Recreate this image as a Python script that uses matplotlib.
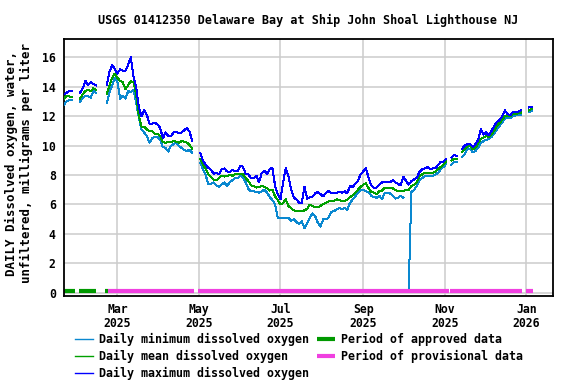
import numpy as np
import pandas as pd
import matplotlib
matplotlib.use('Agg')
import matplotlib.pyplot as plt

nan = np.nan

# daily dissolved oxygen, read every 2nd day starting 2025-01-20 (mg/L)
do_max = [
    13.5, 13.6, 13.7, 13.7, nan, nan, 13.6, 13.9, 14.4, 14.15,
    14.3, 14.2, 14.1, nan, nan, nan, 14.1, 15.0, 15.5, 15.2,
    14.9, 15.2, 15.1, 15.1, 15.5, 16.0, 14.7, 14.0, 12.6, 12.0,
    12.4, 12.1, 11.5, 11.5, 11.55, 11.45, 11.2, 10.5, 10.9, 10.65,
    10.65, 10.9, 10.95, 10.85, 10.9, 11.05, 11.2, 10.95, 10.3, nan,
    nan, 9.5, 9.0, 8.7, 8.5, 8.35, 8.1, 8.15, 8.05, 8.4,
    8.45, 8.25, 8.2, 8.35, 8.25, 8.25, 8.65, 8.55, 8.1, 8.05,
    7.8, 7.8, 7.95, 7.5, 8.15, 8.3, 8.1, 8.4, 8.5, 7.25,
    6.7, 6.35, 7.5, 8.5, 7.9, 7.05, 6.45, 6.35, 6.1, 6.1,
    7.2, 6.4, 6.5, 6.55, 6.75, 6.85, 6.7, 6.55, 6.8, 6.9,
    6.8, 6.8, 6.8, 6.85, 6.8, 6.9, 6.75, 7.25, 7.2, 7.4,
    7.6, 8.05, 8.25, 8.45, 7.8, 7.3, 7.1, 7.15, 7.35, 7.5,
    7.55, 7.55, 7.5, 7.65, 7.5, 7.4, 7.3, 7.9, 7.6, 7.35,
    7.6, 7.7, 7.8, 8.2, 8.4, 8.45, 8.55, 8.4, 8.45, 8.45,
    8.7, 8.9, 8.9, 9.1, nan, 9.2, 9.35, 9.3, nan, 9.8,
    10.0, 10.1, 10.1, 9.9, 10.1, 10.4, 11.15, 10.75, 10.9, 10.7,
    11.0, 11.35, 11.6, 11.75, 12.0, 12.4, 12.15, 12.05, 12.3, 12.3,
    12.3, 12.4, nan, nan, 12.6, 12.65,
]

do_mean = [
    13.2, 13.4, 13.35, 13.3, nan, nan, 13.2, 13.5, 13.7, 13.8,
    13.7, 13.9, 13.8, nan, nan, nan, 13.5, 14.1, 14.6, 14.9,
    14.6, 14.4, 14.3, 13.85, 14.1, 14.4, 14.3, 13.5, 12.0, 11.3,
    11.3, 11.1, 11.0, 11.0, 10.8, 10.8, 10.65, 10.25, 10.2, 10.27,
    10.25, 10.3, 10.27, 10.2, 10.3, 10.27, 10.2, 10.05, 9.8, nan,
    nan, 9.1, 8.7, 8.45, 8.05, 7.85, 7.7, 7.65, 7.8, 7.95,
    7.9, 7.95, 8.0, 7.95, 8.05, 8.05, 8.1, 8.05, 7.8, 7.6,
    7.3, 7.25, 7.15, 7.2, 7.25, 7.2, 7.1, 6.95, 7.0, 6.55,
    6.3, 6.0, 6.1, 6.35, 5.9, 5.75, 5.6, 5.55, 5.55, 5.55,
    5.6, 5.7, 6.0, 5.9, 5.8, 5.8, 5.9, 6.05, 6.1, 6.2,
    6.25, 6.25, 6.35, 6.3, 6.25, 6.25, 6.3, 6.5, 6.6, 6.8,
    7.0, 7.2, 7.35, 7.45, 7.1, 6.85, 6.8, 6.7, 6.9, 6.95,
    7.15, 7.15, 7.15, 7.1, 7.0, 6.9, 6.9, 6.9, 7.0, 7.0,
    7.25, 7.35, 7.5, 7.9, 8.05, 8.15, 8.15, 8.15, 8.15, 8.25,
    8.4, 8.55, 8.7, 8.95, nan, 9.0, 9.1, 9.1, nan, 9.6,
    9.75, 10.0, 10.0, 9.75, 9.85, 10.2, 10.45, 10.55, 10.65, 10.6,
    10.8, 11.0, 11.35, 11.55, 11.75, 12.0, 12.0, 12.0, 12.15, 12.15,
    12.2, 12.25, nan, nan, 12.4, 12.5,
]

do_min = [
    12.8, 13.0, 13.1, 13.1, nan, nan, 13.0, 13.25, 13.37, 13.37,
    13.25, 13.7, 13.6, nan, nan, nan, 12.9, 13.6, 14.1, 14.6,
    14.3, 13.2, 13.4, 13.2, 13.7, 13.65, 13.8, 12.9, 11.9, 11.1,
    10.9, 10.65, 10.2, 10.5, 10.6, 10.6, 10.4, 9.9, 9.85, 9.6,
    10.0, 10.1, 10.2, 9.97, 9.85, 9.7, 9.65, 9.7, 9.5, nan,
    nan, 8.85, 8.4, 8.0, 7.4, 7.4, 7.5, 7.3, 7.2, 7.35,
    7.5, 7.25, 7.5, 7.65, 7.8, 7.8, 7.95, 7.8, 7.5, 7.05,
    6.9, 6.9, 6.85, 6.8, 6.9, 7.0, 6.8, 6.5, 6.3, 6.0,
    5.1, 5.05, 5.05, 5.05, 5.1, 4.9, 5.0, 4.8, 4.7, 4.85,
    4.4, 4.7, 5.1, 5.4, 5.2, 4.75, 4.5, 5.0, 5.0, 5.1,
    5.5, 5.55, 5.65, 5.75, 5.7, 5.75, 5.65, 6.1, 6.35, 6.55,
    6.8, 6.95, 7.0, 6.9, 6.8, 6.6, 6.5, 6.45, 6.6, 6.35,
    6.8, 6.8, 6.75, 6.6, 6.4, 6.45, 6.6, 6.45, nan, 0.35,
    6.85, 7.0, 7.25, 7.65, 7.8, 7.9, 7.95, 7.95, 7.95, 8.05,
    8.15, 8.4, 8.55, 8.75, nan, 8.7, 8.9, 8.9, nan, 9.25,
    9.4, 9.85, 9.75, 9.55, 9.65, 9.85, 10.2, 10.3, 10.4, 10.45,
    10.6, 10.8, 11.1, 11.35, 11.55, 11.85, 11.9, 11.85, 12.0, 12.05,
    12.1, 12.1, nan, nan, 12.3, 12.35,
]

dates = pd.date_range('2025-01-20', periods=len(do_max), freq='2D')

approved_start = ['2025-01-19', '2025-01-31', '2025-02-20']
approved_end = ['2025-01-28', '2025-02-13', '2025-02-22']
provisional_start = ['2025-02-22', '2025-04-30', '2025-11-05', '2026-01-01']
provisional_end = ['2025-04-27', '2025-11-04', '2025-12-29', '2026-01-06']

tick_dates = ['2025-03-01', '2025-05-01', '2025-07-01', '2025-09-01', '2025-11-01', '2026-01-01']
tick_labels = ['Mar\n2025', 'May\n2025', 'Jul\n2025', 'Sep\n2025', 'Nov\n2025', 'Jan\n2026']

title = 'USGS 01412350 Delaware Bay at Ship John Shoal Lighthouse NJ'
ylabel = 'DAILY Dissolved oxygen, water,\nunfiltered, milligrams per liter'

plt.rcParams['font.family'] = 'DejaVu Sans Mono'
plt.rcParams['font.weight'] = 'bold'

fig = plt.figure(figsize=(5.76, 3.84), dpi=100)
ax = fig.add_axes([64 / 576, 1 - 296 / 384, (553 - 64) / 576, (296 - 39) / 384])

ax.plot(dates, do_min, color='#0a88d0', lw=0.72, antialiased=False,
        label='Daily minimum dissolved oxygen', zorder=3)
ax.plot(dates, do_mean, color='#00a000', lw=0.72, antialiased=False,
        label='Daily mean dissolved oxygen', zorder=3)
ax.plot(dates, do_max, color='#0000ff', lw=0.72, antialiased=False,
        label='Daily maximum dissolved oxygen', zorder=3)

bar_level = 0.09
for i, (s, e) in enumerate(zip(approved_start, approved_end)):
    ax.plot(pd.to_datetime([s, e]), [bar_level, bar_level], color='#009900', lw=3,
            solid_capstyle='butt', zorder=2,
            label='Period of approved data' if i == 0 else None)
for i, (s, e) in enumerate(zip(provisional_start, provisional_end)):
    ax.plot(pd.to_datetime([s, e]), [bar_level, bar_level], color='#f040e0', lw=3,
            solid_capstyle='butt', zorder=2,
            label='Period of provisional data' if i == 0 else None)

ax.set_xlim(pd.Timestamp('2025-01-20'), pd.Timestamp('2026-01-21'))
ax.set_ylim(-0.22, 17.25)
ax.set_yticks(range(0, 17, 2))
ax.set_xticks(pd.to_datetime(tick_dates))
ax.set_xticklabels(tick_labels, linespacing=1.1)
ax.tick_params(length=0, labelsize=8.3, pad=5)
ax.tick_params(axis='y', pad=6)
ax.grid(True, color='#cccccc', lw=1.1)
ax.set_axisbelow(True)
for sp in ax.spines.values():
    sp.set_linewidth(1.3)

fig.text((64 + 553) / 2 / 576, 1 - 20 / 384, title, ha='center', va='center', fontsize=8.5)
fig.text(19 / 576, 1 - 163 / 384, ylabel, rotation=90, ha='center', va='center',
         fontsize=9, multialignment='center', linespacing=1.25)

leg = fig.legend(loc='upper left', bbox_to_anchor=(75 / 576, 1 - 333 / 384), ncol=2,
                 frameon=False, fontsize=8.4, borderpad=0, borderaxespad=0,
                 handlelength=1.55, handletextpad=0.5, columnspacing=0.72,
                 labelspacing=0.35)
# the thin data lines look washed out as legend samples; draw them a bit firmer
for h in leg.get_lines()[:3]:
    h.set_antialiased(True)
    h.set_linewidth(1.0)

fig.savefig('out.png', dpi=100)
